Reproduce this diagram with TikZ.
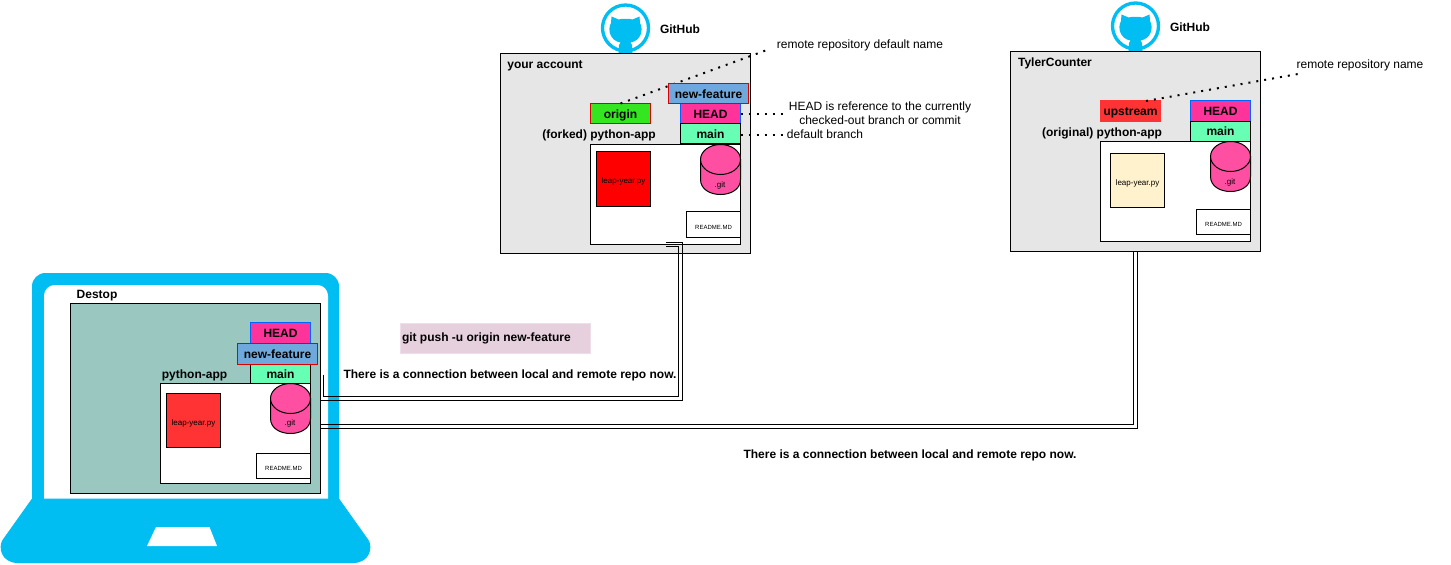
\documentclass[tikz,border=0pt]{standalone}
\usepackage{fontspec}
\setmainfont{Liberation Sans}
\definecolor{ghblue}{HTML}{00BEF2}
\definecolor{headpink}{HTML}{FF3399}
\definecolor{featblue}{HTML}{6FA8DC}
\definecolor{mainmint}{HTML}{66FFB3}
\definecolor{gitpink}{HTML}{FF4FA3}
\definecolor{deskteal}{HTML}{9AC7BF}
\definecolor{acctgray}{HTML}{E6E6E6}
\definecolor{origgreen}{HTML}{33E61F}
\definecolor{uppred}{HTML}{FF3333}
\definecolor{filecream}{HTML}{FFF2CC}
\definecolor{pushmauve}{HTML}{E6D0DE}

\tikzset{
	every node/.style={inner sep=0pt,outer sep=0pt},
	wire/.style={line width=.75pt},
	lineup/.style={text height=8.2pt,text depth=1.4pt},
	boldtxt/.style={font=\fontsize{9}{10.5}\selectfont\bfseries,lineup},
	plaintxt/.style={font=\fontsize{9}{10.5}\selectfont,lineup},
	tinytxt/.style={font=\fontsize{6}{7}\selectfont,lineup},
	readmetxt/.style={font=\fontsize{4.5}{5}\selectfont,lineup},
	acctbox/.style={draw,wire,fill=acctgray,minimum width=187.5pt,minimum height=150pt},
	repobox/.style={draw,wire,fill=white,minimum width=112.5pt,minimum height=75pt},
	filebox/.style={draw,wire,minimum width=40.5pt,minimum height=41pt,tinytxt},
	readmebox/.style={draw,wire,fill=white,minimum width=40.5pt,minimum height=19pt,readmetxt},
	headtag/.style={draw=blue!60!cyan,wire,fill=headpink,minimum width=45pt,minimum height=15.5pt,boldtxt},
	maintag/.style={draw,wire,fill=mainmint,minimum width=45pt,minimum height=15pt,boldtxt},
	feattag/.style={draw=red!85!black,wire,fill=featblue,minimum width=60pt,minimum height=15.5pt,boldtxt},
	linkline/.style={wire},
	dotline/.style={line width=1.5pt,dash pattern=on 1.5pt off 4.5pt},
	gitdrum/.pic={
		\draw[wire,fill=gitpink] (-20,-10) -- (-20,10) .. controls (-20,30) and (20,30) .. (20,10) -- (20,-10) -- cycle;
		\draw[wire,fill=gitpink] (0,-10) ellipse [x radius=20,y radius=15];
	},
	ghcat/.pic={
		\draw[ghblue,line width=2.5pt] (0,0) circle (23);
		\fill[ghblue] (-14,-11.5) -- (-7,-8.5) .. controls (-3,-9.5) and (3,-9.5) .. (7,-8.5) -- (14,-11.5) -- (14.5,-5) .. controls (18.5,2) and (15,13) .. (5,14.5) -- (6.5,17) -- (7,25) -- (-7,25) -- (-6.5,17) -- (-5,14.5) .. controls (-15,13) and (-18.5,2) .. (-14.5,-5) -- cycle;
	}
}

\begin{document}
\begin{tikzpicture}[x=.75pt,y=-.75pt]
	\useasboundingbox (0,0) rectangle (1451,564);
	% laptop
	\fill[ghblue,rounded corners=10pt] (32,515) -- (32,273) -- (339,273) -- (339,515) -- cycle;
	\fill[white,rounded corners=8pt] (44,515) -- (44,285) -- (328,285) -- (328,515) -- cycle;
	\fill[ghblue] (32,498.5) -- (2.5,540) .. controls (-2,547) and (1,563) .. (18,563) -- (353,563) .. controls (370,563) and (373,547) .. (368.5,540) -- (339,498.5) -- cycle;
	\fill[white] (147,546) -- (217,546) -- (209.5,527) -- (156,527) -- cycle;
	% local repo
	\node[boldtxt] (desklabel) at (97,294) {Destop};
	\node[draw,wire,fill=deskteal,minimum width=187.5pt,minimum height=142.5pt] (desktop) at (195.5,398.5) {};
	\node[headtag] (lochead) at (280.5,333) {HEAD};
	\node[maintag,minimum height=15pt] (locmain) at (280.5,374) {main};
	\node[feattag] (locfeat) at (277.5,354) {new-feature};
	\node[boldtxt] (locname) at (194.5,374) {python-app};
	\node[repobox] (locrepo) at (235.5,433.5) {};
	\node[filebox,fill=uppred] (locfile) at (193.5,420.5) {leap-year.py};
	\pic at (290.5,408.5) {gitdrum};
	\node[tinytxt] (locgittxt) at (290,421) {.git};
	\node[readmebox] (locread) at (283.5,466) {README.MD};
	% forked repo
	\pic at (625.5,28) {ghcat};
	\node[boldtxt] (forkgh) at (680,29) {GitHub};
	\node[acctbox] (account) at (625.5,153.5) {};
	\node[boldtxt] (accountname) at (545,64) {your account};
	\node[draw=red!85!black,wire,fill=origgreen,minimum width=45pt,minimum height=15pt,boldtxt] (origin) at (620.5,113.5) {origin};
	\node[headtag] (forkhead) at (710.5,113.5) {HEAD};
	\node[maintag] (forkmain) at (710.5,133.5) {main};
	\coordinate (defnameend) at (767,50);
	\draw[dotline] (origin.north) -- (defnameend);
	\node[feattag] (forkfeat) at (708.5,93.5) {new-feature};
	\node[boldtxt] (forkname) at (599,134) {(forked) python-app};
	\node[repobox] (forkrepo) at (665.5,194.5) {};
	\node[filebox,fill=red] (forkfile) at (623.5,179) {leap-year.py};
	\pic at (720.5,169.5) {gitdrum};
	\node[tinytxt] (forkgittxt) at (720,183) {.git};
	\node[readmebox] (forkread) at (713.5,224.5) {README.MD};
	% original repo
	\pic at (1135.5,26) {ghcat};
	\node[boldtxt] (origgh) at (1190,27) {GitHub};
	\node[acctbox] (tyler) at (1135.5,151) {};
	\node[boldtxt] (tylername) at (1055,61.5) {TylerCounter};
	\node[fill=uppred,minimum width=45.75pt,minimum height=16pt,boldtxt] (upstream) at (1130.5,111) {upstream};
	\node[headtag] (orighead) at (1220.5,111) {HEAD};
	\node[maintag] (origmain) at (1220.5,131) {main};
	\node[boldtxt] (origname) at (1102,131.5) {(original) python-app};
	\node[repobox] (origrepo) at (1175.5,191.5) {};
	\node[filebox,fill=filecream] (origfile) at (1137.5,180.5) {leap-year.py};
	\pic at (1230.5,166.5) {gitdrum};
	\node[tinytxt] (origgittxt) at (1230,180) {.git};
	\node[readmebox] (origread) at (1223.5,222) {README.MD};
	% notes
	\node[plaintxt] (defname) at (860,44) {remote repository default name};
	\node[font=\fontsize{9}{10.5}\selectfont,align=center] (headnote) at (880,113) {HEAD is reference to the currently\\checked-out branch or commit};
	\node[plaintxt] (defbranch) at (825,134) {default branch};
	\node[plaintxt] (remname) at (1360,64) {remote repository name};
	\node[draw=pushmauve!70!white,wire,fill=pushmauve,minimum width=142.5pt,minimum height=22.5pt] (pushbox) at (495.5,338.5) {};
	\node[boldtxt,anchor=west] (pushcmd) at (402,336.5) {git push -u origin new-feature};
	\node[boldtxt] (linknote) at (510,373.5) {There is a connection between local and remote repo now.};
	\node[boldtxt] (linknoteb) at (910,454) {There is a connection between local and remote repo now.};
	% ends of the dotted lines and links
	\coordinate (headend) at (784,113.5);
	\coordinate (mainend) at (784,135);
	\coordinate (mainstart) at (740.5,135);
	\coordinate (upstart) at (1146,101);
	\coordinate (remnameend) at (1298,74);
	\coordinate (pushinS) at (323.5,374.5);
	\coordinate (pushinM) at (678.5,396.5);
	\coordinate (pushinE) at (665.5,246);
	\coordinate (pushoutS) at (320.5,400.5);
	\coordinate (pushoutM) at (682.5,400.5);
	\coordinate (pushoutE) at (665.5,242.5);
	\coordinate (upinS) at (320.5,424.5);
	\coordinate (upinE) at (1133.5,251);
	\coordinate (upoutS) at (320.5,428.5);
	\coordinate (upoutE) at (1137.5,251);
	\draw[dotline] (forkhead.east) -- (headend);
	\draw[dotline] (mainstart) -- (mainend);
	\draw[dotline] (upstart) -- (remnameend);
	\draw[linkline] (pushinS) |- (pushinM) |- (pushinE);
	\draw[linkline] (pushoutS) -- (pushoutM) |- (pushoutE);
	\draw[linkline] (upinS) -| (upinE);
	\draw[linkline] (upoutS) -| (upoutE);
\end{tikzpicture}
\end{document}
